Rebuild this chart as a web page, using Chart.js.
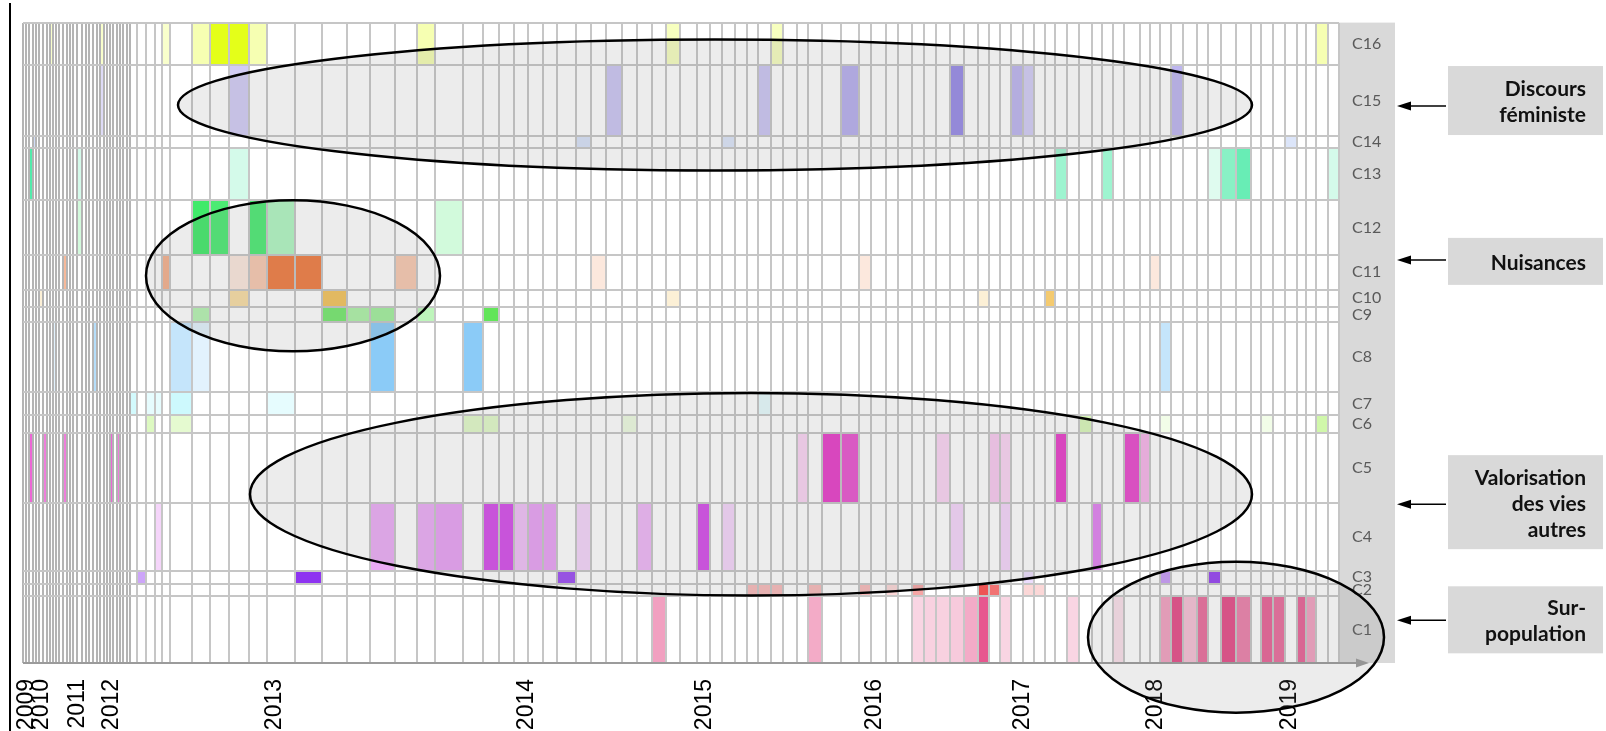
<!DOCTYPE html>
<html>
<head>
<meta charset="utf-8">
<script src="https://cdn.jsdelivr.net/npm/chart.js@4.4.1/dist/chart.umd.min.js"></script>
<style>
  html, body { margin: 0; padding: 0; background: #fff; }
</style>
</head>
<body>
<canvas id="chart" width="1606" height="731"></canvas>
<script>
// rows, bottom to top, and their relative heights
const rowLabels = ['C1','C2','C3','C4','C5','C6','C7','C8','C9','C10','C11','C12','C13','C14','C15','C16'];
const rowHeights = [67, 13, 13, 68, 71, 18, 23, 70, 16, 17, 35, 55, 53, 12, 71, 43];

// column boundaries along the timeline
const colEdges = [0, 3, 6, 10, 13, 16, 20, 24, 27, 30, 33, 36, 40, 44, 47, 50, 54, 59, 63, 66, 70, 74, 77, 81, 84, 87, 90, 94, 97, 100, 104, 107,
  114, 123, 132, 139, 147, 169, 187, 206, 226, 244, 272, 299, 324, 347, 372, 394, 412, 440, 460, 476, 491, 505, 520, 534, 553, 568, 583, 599,
  614, 629, 643, 657, 674, 687, 699, 712, 724, 735, 748, 760, 774, 785, 799, 818, 836, 848, 863, 875, 889, 901, 913, 927, 941, 955, 966, 977,
  988, 1000, 1011, 1022, 1032, 1044, 1056, 1069, 1079, 1090, 1101, 1117, 1127, 1137, 1148, 1160, 1174, 1185, 1198, 1213, 1228, 1238, 1250,
  1262, 1274, 1283, 1293, 1305, 1316];
const denseCols = 31; // the early, crowded columns (2009-2012)

const yearLabels = ['2009','2010','2011','2012','2013','2014','2015','2016','2017','2018','2019'];
const yearTicks = [4, 19, 55, 89, 252, 504, 682, 852, 1000, 1133, 1267];

// base colour of each row
const rowColors = [
  [225, 45, 115], [235, 55, 55], [130, 30, 240], [205, 45, 230], [228, 40, 195], [170, 240, 100],
  [130, 240, 250], [110, 190, 245], [70, 225, 60], [240, 180, 50], [236, 100, 30], [30, 230, 80],
  [40, 230, 150], [140, 170, 235], [125, 110, 225], [225, 255, 0]
];

// [column index, intensity]
const c1Cells = [[61,0.45],[73,0.4],[80,0.2],[81,0.22],[82,0.22],[83,0.25],[84,0.4],[85,0.8],[87,0.2],[93,0.2],[97,0.15],[101,0.45],[102,0.85],[103,0.3],[104,0.7],[106,0.85],[107,0.6],[109,0.75],[110,0.7],[112,0.75],[113,0.45]];
const c2Cells = [[68,0.35],[69,0.35],[70,0.35],[73,0.35],[76,0.35],[78,0.2],[80,0.45],[85,0.85],[86,0.7],[89,0.2],[90,0.2]];
const c3Cells = [[32,0.4],[42,0.9],[55,0.8],[89,0.15],[101,0.45],[105,0.85]];
const c4Cells = [[34,0.2],[45,0.4],[47,0.4],[48,0.45],[50,0.85],[51,0.85],[52,0.3],[53,0.45],[54,0.45],[56,0.2],[60,0.35],[64,0.85],[66,0.2],[83,0.2],[87,0.2],[95,0.6]];
const c5Cells = [[2,0.7],[6,0.6],[12,0.6],[25,0.7],[27,0.6],[72,0.2],[74,0.9],[75,0.8],[82,0.2],[86,0.25],[87,0.2],[92,0.9],[98,0.85],[99,0.35]];
const c6Cells = [[33,0.4],[36,0.3],[49,0.35],[50,0.35],[59,0.2],[94,0.45],[101,0.15],[109,0.15],[114,0.55]];
const c7Cells = [[31,0.35],[33,0.2],[34,0.2],[36,0.4],[41,0.2],[69,0.2]];
const c8Cells = [[9,0.2],[20,0.5],[36,0.4],[37,0.2],[45,0.8],[49,0.8],[101,0.4]];
const c9Cells = [[37,0.4],[43,0.75],[44,0.45],[45,0.5],[47,0.35],[50,0.85]];
const c10Cells = [[5,0.2],[39,0.45],[43,0.8],[62,0.2],[85,0.2],[91,0.7]];
const c11Cells = [[12,0.45],[35,0.5],[39,0.15],[40,0.35],[41,0.85],[42,0.85],[46,0.35],[57,0.15],[76,0.15],[100,0.15]];
const c12Cells = [[16,0.2],[37,0.85],[38,0.8],[40,0.8],[41,0.35],[48,0.2]];
const c13Cells = [[2,0.8],[16,0.2],[39,0.2],[92,0.45],[96,0.45],[105,0.15],[106,0.55],[107,0.7],[115,0.2]];
const c14Cells = [[3,0.4],[56,0.35],[66,0.3],[111,0.3]];
const c15Cells = [[22,0.25],[39,0.35],[58,0.4],[69,0.4],[75,0.55],[83,0.8],[88,0.5],[89,0.35],[102,0.5]];
const c16Cells = [[8,0.2],[22,0.2],[35,0.2],[37,0.3],[38,0.9],[39,0.9],[40,0.3],[47,0.3],[62,0.25],[70,0.25],[114,0.3]];

const rowCells = [c1Cells, c2Cells, c3Cells, c4Cells, c5Cells, c6Cells, c7Cells, c8Cells,
  c9Cells, c10Cells, c11Cells, c12Cells, c13Cells, c14Cells, c15Cells, c16Cells];

const rowEdges = [0];
rowHeights.forEach(h => rowEdges.push(rowEdges[rowEdges.length - 1] + h));
const rowCenters = rowHeights.map((h, i) => rowEdges[i] + h / 2);

// highlighted groups (centre and radii in axis units)
const ellipses = [
  {cx: 692, cy: 562, rx: 537, ry: 66},
  {cx: 270, cy: 390, rx: 147, ry: 76},
  {cx: 728, cy: 170, rx: 501, ry: 102},
  {cx: 1213, cy: 26, rx: 148, ry: 76}
];

const callouts = [
  {lines: ['Discours', 'féministe'], arrow: 561, box: 566.5, h: 69},
  {lines: ['Nuisances'], arrow: 406, box: 404.5, h: 47},
  {lines: ['Valorisation', 'des vies', 'autres'], arrow: 160, box: 162, h: 94},
  {lines: ['Sur-', 'population'], arrow: 43, box: 43.5, h: 67}
];

const gridColor = '#c6c6c6';

const cellPlugin = {
  id: 'cells',
  beforeDraw(chart) {
    const {ctx, chartArea, scales} = chart;
    const x = scales.x, y = scales.y, yr = scales.yr;
    ctx.save();
    ctx.fillStyle = '#d9d9d9';
    ctx.fillRect(yr.left, chartArea.top, yr.right - yr.left, chartArea.bottom - chartArea.top);

    rowCells.forEach((cells, r) => {
      const y0 = y.getPixelForValue(rowEdges[r]);
      const y1 = y.getPixelForValue(rowEdges[r + 1]);
      const [cr, cg, cb] = rowColors[r];
      cells.forEach(([col, v]) => {
        const x0 = x.getPixelForValue(colEdges[col]);
        const x1 = x.getPixelForValue(colEdges[col + 1]);
        ctx.fillStyle = 'rgba(' + cr + ',' + cg + ',' + cb + ',' + v + ')';
        ctx.fillRect(x0, y1, x1 - x0, y0 - y1);
      });
    });
    ctx.restore();
  },
  afterDraw(chart) {
    const {ctx, chartArea: a, scales} = chart;
    const x = scales.x, y = scales.y, yr = scales.yr;
    ctx.save();

    // time axis with arrow
    ctx.strokeStyle = '#9b9b9b';
    ctx.fillStyle = '#9b9b9b';
    ctx.lineWidth = 2;
    ctx.beginPath();
    ctx.moveTo(a.left, a.bottom);
    ctx.lineTo(yr.left + 18, a.bottom);
    ctx.stroke();
    ctx.beginPath();
    ctx.moveTo(yr.left + 30, a.bottom);
    ctx.lineTo(yr.left + 17, a.bottom - 4.5);
    ctx.lineTo(yr.left + 17, a.bottom + 4.5);
    ctx.closePath();
    ctx.fill();

    // ellipses
    ellipses.forEach(e => {
      const cx = x.getPixelForValue(e.cx), cy = y.getPixelForValue(e.cy);
      const rx = x.getPixelForValue(e.cx + e.rx) - cx;
      const ry = cy - y.getPixelForValue(e.cy + e.ry);
      ctx.beginPath();
      ctx.ellipse(cx, cy, rx, ry, 0, 0, Math.PI * 2);
      ctx.fillStyle = 'rgba(130,130,130,0.15)';
      ctx.fill();
      ctx.lineWidth = 2.5;
      ctx.strokeStyle = '#000';
      ctx.stroke();
    });

    // callout boxes and arrows
    callouts.forEach(c => {
      const ay = y.getPixelForValue(c.arrow);
      const by = y.getPixelForValue(c.box);
      ctx.fillStyle = '#d9d9d9';
      ctx.fillRect(yr.right + 53, by - c.h / 2, 155, c.h);
      ctx.strokeStyle = '#000';
      ctx.fillStyle = '#000';
      ctx.lineWidth = 1.5;
      ctx.beginPath();
      ctx.moveTo(yr.right + 51, ay);
      ctx.lineTo(yr.right + 14, ay);
      ctx.stroke();
      ctx.beginPath();
      ctx.moveTo(yr.right + 2, ay);
      ctx.lineTo(yr.right + 16, ay - 4.5);
      ctx.lineTo(yr.right + 16, ay + 4.5);
      ctx.closePath();
      ctx.fill();

      ctx.font = 'bold 21px Lato, "Open Sans", sans-serif';
      ctx.textAlign = 'right';
      ctx.textBaseline = 'alphabetic';
      ctx.fillStyle = '#111';
      const n = c.lines.length;
      c.lines.forEach((t, i) => {
        ctx.fillText(t, yr.right + 191, by + 8.5 - (n - 1) * 13 + i * 26);
      });
    });

    // left frame line
    ctx.fillStyle = '#000';
    ctx.fillRect(9, 3, 2, 728);
    ctx.restore();
  }
};

new Chart(document.getElementById('chart'), {
  type: 'scatter',
  data: { datasets: [] },
  plugins: [cellPlugin],
  options: {
    responsive: false,
    animation: false,
    layout: { padding: { left: 23, top: 18, right: 211, bottom: 0 } },
    plugins: { legend: { display: false }, tooltip: { enabled: false } },
    scales: {
      x: {
        type: 'linear', position: 'bottom', min: 0, max: 1316,
        afterBuildTicks: s => { s.ticks = yearTicks.map(v => ({value: v})); },
        afterFit: s => { s.height = 68; },
        grid: { display: false },
        border: { display: false },
        ticks: {
          autoSkip: false, minRotation: 90, maxRotation: 90, padding: 8,
          color: '#000',
          font: { family: '"Liberation Sans", Arial, sans-serif', size: 23 },
          callback: (v, i) => yearLabels[i]
        }
      },
      xg: {
        type: 'linear', position: 'top', min: 0, max: 1316,
        afterBuildTicks: s => { s.ticks = colEdges.map(v => ({value: v})); },
        afterFit: s => { s.height = 0; },
        grid: {
          color: c => (c.index <= denseCols ? '#b4b4b4' : gridColor),
          lineWidth: 2, drawTicks: false
        },
        border: { display: false },
        ticks: { display: false, autoSkip: false }
      },
      y: {
        type: 'linear', position: 'left', min: 0, max: 645,
        afterBuildTicks: s => { s.ticks = rowEdges.map(v => ({value: v})); },
        afterFit: s => { s.width = 0; },
        grid: { color: gridColor, lineWidth: 2, drawTicks: false },
        border: { display: false },
        ticks: { display: false, autoSkip: false }
      },
      yr: {
        type: 'linear', position: 'right', min: 0, max: 645,
        afterBuildTicks: s => { s.ticks = rowCenters.map(v => ({value: v})); },
        afterFit: s => { s.width = 56; },
        grid: { display: false, drawTicks: false },
        border: { display: false },
        ticks: {
          autoSkip: false, padding: 13, color: '#595959',
          font: { family: 'Lato, "Open Sans", sans-serif', size: 16 },
          callback: (v, i) => rowLabels[i]
        }
      }
    }
  }
});
</script>
</body>
</html>
